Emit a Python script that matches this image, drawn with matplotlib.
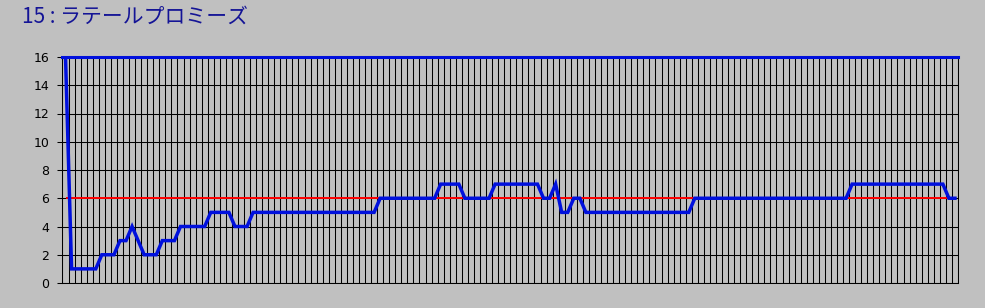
import numpy as np
import matplotlib
matplotlib.use("Agg")
import matplotlib.pyplot as plt

title = "15 : ラテールプロミーズ"

# popularity rank over time (blue)
rank = [16,
        1, 1, 1, 1, 1, 2, 2, 2, 3, 3, 4, 3, 2, 2, 2, 3, 3, 3, 4,
        4, 4, 4, 4, 5, 5, 5, 5, 4, 4, 4, 5, 5, 5, 5, 5, 5, 5, 5,
        5, 5, 5, 5, 5, 5, 5, 5, 5, 5, 5, 5, 5, 6, 6, 6, 6, 6, 6,
        6, 6, 6, 6, 7, 7, 7, 7, 6, 6, 6, 6, 6, 7, 7, 7, 7, 7, 7,
        7, 7, 6, 6, 7, 5, 5, 6, 6, 5, 5, 5, 5, 5, 5, 5, 5, 5, 5,
        5, 5, 5, 5, 5, 5, 5, 5, 6, 6, 6, 6, 6, 6, 6, 6, 6, 6, 6,
        6, 6, 6, 6, 6, 6, 6, 6, 6, 6, 6, 6, 6, 6, 6, 7, 7, 7, 7,
        7, 7, 7, 7, 7, 7, 7, 7, 7, 7, 7, 7, 6, 6]
final_rank = 6        # red reference line
final_span = 147      # number of points the red line covers
runners = 16          # top line
yticks = [0, 2, 4, 6, 8, 10, 12, 14, 16]

bg = "#c0c0c0"
blue = "#0010dd"

fig = plt.figure(figsize=(9.85, 3.08), dpi=100, facecolor=bg)
ax = fig.add_axes([62.5 / 985, 1 - 283 / 308, (958 - 62.5) / 985, (283 - 57) / 308])
ax.set_facecolor(bg)

x = np.arange(len(rank))
ax.set_xlim(-0.5, len(rank) - 0.5)
ax.set_ylim(0, 16)

# vertical grid at category boundaries
ax.set_xticks(np.arange(len(rank) + 1) - 0.5)
ax.tick_params(axis="x", length=0, labelbottom=False)
ax.set_yticks(yticks)
ax.tick_params(axis="y", length=3.6, width=0.75, color="black", pad=6,
               labelsize=9, labelcolor="#000000")
ax.grid(True, color="black", linewidth=0.75)
ax.set_axisbelow(True)
for s in ax.spines.values():
    s.set_color("black")
    s.set_linewidth(0.75)

ax.hlines(final_rank, x[0], x[final_span - 1], color="#ff0000", linewidth=1.4, zorder=3)
ax.axhline(runners, color=blue, linewidth=2.2, zorder=4, clip_on=False)
ax.plot(x, rank, color=blue, linewidth=2.5, zorder=5, solid_joinstyle="miter")

fig.text(22 / 985, 1 - 17 / 308, title, color="#141496", fontsize=15,
         va="center", ha="left", family=["Noto Sans CJK JP", "DejaVu Sans"])

fig.savefig("out.png", dpi=100, facecolor=bg)
